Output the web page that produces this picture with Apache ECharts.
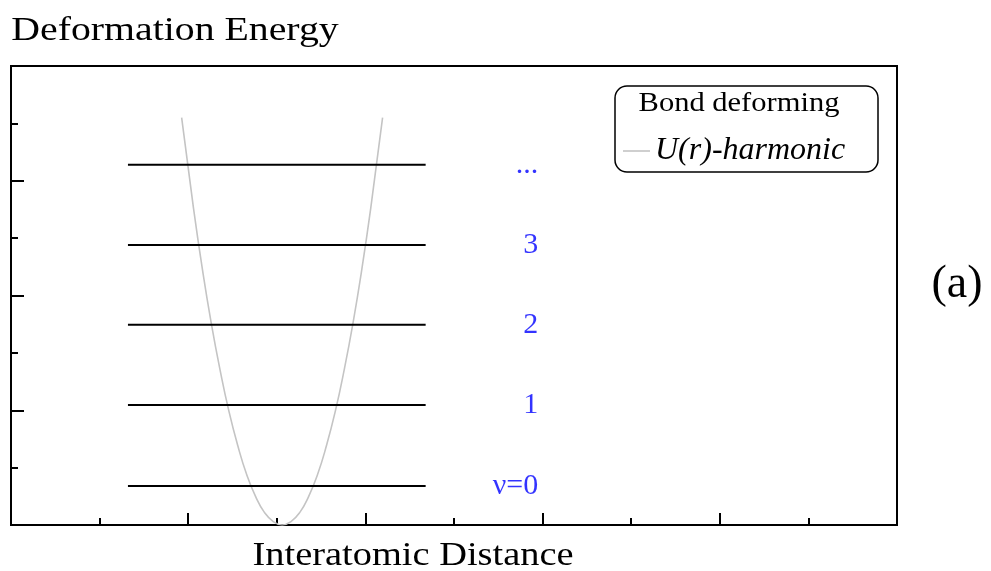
<!DOCTYPE html>
<html>
<head>
<meta charset="utf-8">
<script src="https://cdn.jsdelivr.net/npm/echarts@6/dist/echarts.min.js"></script>
<style>
  html, body { margin: 0; padding: 0; background: #fff; }
  #chart { width: 991px; height: 571px; }
</style>
</head>
<body>
<div id="chart"></div>
<script>
// Harmonic potential U(r) sampled along the interatomic distance
const curveR = [0.963, 1.03, 1.08, 1.13, 1.18, 1.23, 1.28, 1.33, 1.38, 1.43, 1.48, 1.53,
                1.58, 1.63, 1.68, 1.73, 1.78, 1.83, 1.88, 1.93, 1.98, 2.03, 2.097];
const curveU = [3.55, 2.76, 2.23, 1.76, 1.35, 0.99, 0.69, 0.44, 0.25, 0.11, 0.03, 0,
                0.03, 0.11, 0.25, 0.44, 0.69, 0.99, 1.35, 1.76, 2.23, 2.76, 3.55];

// Vibrational energy levels
const levelEnergies = [0.34, 1.045, 1.745, 2.44, 3.14];
const levelLabels = ['ν=0', '1', '2', '3', '...'];
const levelFrom = 0.66;
const levelTo = 2.34;
const labelAt = 2.975;

const serif = '"Liberation Serif", "Times New Roman", serif';

const chart = echarts.init(document.getElementById('chart'), null, { renderer: 'canvas' });

const series = [];
levelEnergies.forEach((e, i) => {
  series.push({
    name: 'level' + i,
    type: 'line',
    data: [[levelFrom, e], [levelTo, e]],
    symbol: 'none',
    lineStyle: { color: '#000', width: 2 },
    z: 3,
    silent: true
  });
});
series.push({
  name: 'U(r)-harmonic',
  type: 'line',
  data: curveR.map((r, i) => [r, curveU[i]]),
  symbol: 'none',
  smooth: true,
  lineStyle: { color: '#c4c4c4', width: 1.6 },
  itemStyle: { color: '#c4c4c4' },
  z: 2
});
series.push({
  name: 'labels',
  type: 'scatter',
  data: levelEnergies.map((e, i) => [labelAt, e, levelLabels[i]]),
  symbolSize: 0,
  label: {
    show: true,
    position: 'left',
    distance: 0,
    formatter: p => p.data[2],
    color: '#0000ff',
    fontFamily: serif,
    fontSize: 30
  },
  silent: true
});

// Helper for stretched free-standing text
function label(text, x, y, size, sx) {
  return {
    type: 'text',
    x: x, y: y,
    scaleX: sx,
    style: {
      text: text, fill: '#000',
      font: size + 'px ' + serif, align: 'center', verticalAlign: 'middle'
    },
    z: 10
  };
}

chart.setOption({
  animation: false,
  backgroundColor: '#fff',
  grid: {
    left: 11, right: 94, top: 66, bottom: 46,
    outerBoundsMode: 'none',
    containLabel: false,
    show: true, borderColor: '#000', borderWidth: 2
  },
  legend: {
    data: ['U(r)-harmonic'],
    left: 623, top: 135, padding: 0,
    icon: 'path://M0,0 L1,0 L1,0.06 L0,0.06 Z',
    itemWidth: 27, itemHeight: 2, itemGap: 7,
    textStyle: { fontFamily: serif, fontSize: 32, fontStyle: 'italic', color: '#000', padding: [0, 0, 0, 0] }
  },
  xAxis: {
    type: 'value', min: 0, max: 5, interval: 1,
    axisLine: { lineStyle: { color: '#000', width: 2 } },
    axisTick: { show: true, inside: true, length: 12, lineStyle: { color: '#000', width: 2 } },
    minorTick: { show: true, splitNumber: 2, length: 7, lineStyle: { color: '#000', width: 2 } },
    axisLabel: { show: false },
    splitLine: { show: false }
  },
  yAxis: {
    type: 'value', min: 0, max: 4, interval: 1,
    axisLine: { show: true, lineStyle: { color: '#000', width: 2 } },
    axisTick: { show: true, inside: true, length: 13, lineStyle: { color: '#000', width: 2 } },
    minorTick: { show: true, splitNumber: 2, length: 7, lineStyle: { color: '#000', width: 2 } },
    axisLabel: { show: false },
    splitLine: { show: false }
  },
  graphic: [
    label('Deformation Energy', 175, 31, 34, 1.17),
    label('Interatomic Distance', 413, 556, 34, 1.13),
    label('(a)', 957, 285, 46, 1.0),
    {
      type: 'rect',
      shape: { x: 615, y: 86, width: 263, height: 86, r: 12 },
      style: { fill: 'none', stroke: '#000', lineWidth: 1.5 },
      z: 10
    },
    label('Bond deforming', 739, 104, 28, 1.09)
  ],
  series: series
});
</script>
</body>
</html>
